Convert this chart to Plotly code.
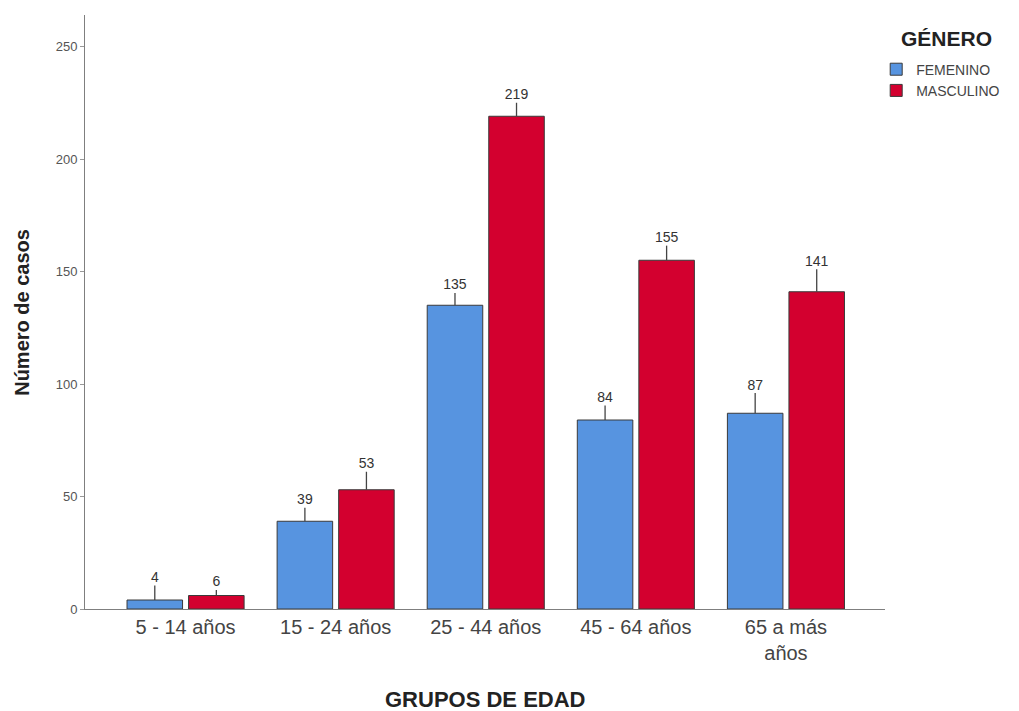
import plotly.graph_objects as go

categories = ["5 - 14 años", "15 - 24 años", "25 - 44 años", "45 - 64 años", "65 a más<br>años"]
femenino = [4, 39, 135, 84, 87]
masculino = [6, 53, 219, 155, 141]
err_fem = [6.5, 6, 5.5, 6.5, 9]
err_masc = [2.5, 8, 6, 6.5, 10]

FONT = "Liberation Sans, Arial, sans-serif"
c_fem = "#5794E0"
c_masc = "#D3002F"
off = 0.205
w = 0.37
idx = list(range(len(categories)))

fig = go.Figure()
for name, vals, errs, col, sgn in [("FEMENINO", femenino, err_fem, c_fem, -1),
                                    ("MASCULINO", masculino, err_masc, c_masc, 1)]:
    xs = [i + sgn * off for i in idx]
    fig.add_trace(go.Bar(
        x=xs, y=vals, width=w, name=name,
        marker=dict(color=col, line=dict(color="#3a3a3a", width=1)),
        error_y=dict(type="data", symmetric=False, array=errs, arrayminus=[0] * len(errs),
                     color="#444444", thickness=1.3, width=0),
    ))
    fig.add_trace(go.Scatter(
        x=xs, y=[v + e for v, e in zip(vals, errs)], mode="text",
        text=[str(v) for v in vals], textposition="top center",
        textfont=dict(family=FONT, size=14, color="#333333"),
        showlegend=False, hoverinfo="skip", cliponaxis=False,
    ))

fig.update_layout(
    width=1011, height=703,
    paper_bgcolor="white", plot_bgcolor="white",
    margin=dict(l=77, r=134, t=7, b=102, autoexpand=False),
    font=dict(family=FONT, color="#333333"),
    showlegend=True,
    legend=dict(x=0.989, y=0.935, xanchor="left", yanchor="top", xref="paper", yref="paper",
                font=dict(size=14, color="#444444"), itemwidth=30, tracegroupgap=0),
    xaxis=dict(
        range=[-0.67, 4.66], tickmode="array", tickvals=idx, ticktext=categories,
        showline=True, linecolor="#7f7f7f", linewidth=1, showgrid=False, zeroline=False,
        ticks="", tickfont=dict(size=20, color="#444444"), automargin=False,
    ),
    yaxis=dict(
        range=[0, 264], tickmode="array", tickvals=[0, 50, 100, 150, 200, 250],
        showline=True, linecolor="#7f7f7f", linewidth=1, showgrid=False, zeroline=False,
        ticks="outside", ticklen=4, tickcolor="#999999",
        tickfont=dict(size=13, color="#555555"), automargin=False,
    ),
    annotations=[
        dict(text="<b>GRUPOS DE EDAD</b>", x=0.5, y=-0.152, xref="paper", yref="paper",
             xanchor="center", yanchor="middle", showarrow=False,
             font=dict(size=22, color="#222222")),
        dict(text="<b>Número de casos</b>", x=-0.079, y=0.5, xref="paper", yref="paper",
             xanchor="center", yanchor="middle", showarrow=False, textangle=-90,
             font=dict(size=20, color="#222222")),
        dict(text="<b>GÉNERO</b>", x=1.0775, y=0.961, xref="paper", yref="paper",
             xanchor="center", yanchor="middle", showarrow=False,
             font=dict(size=21, color="#222222")),
    ],
)

fig.write_html("out.html")
